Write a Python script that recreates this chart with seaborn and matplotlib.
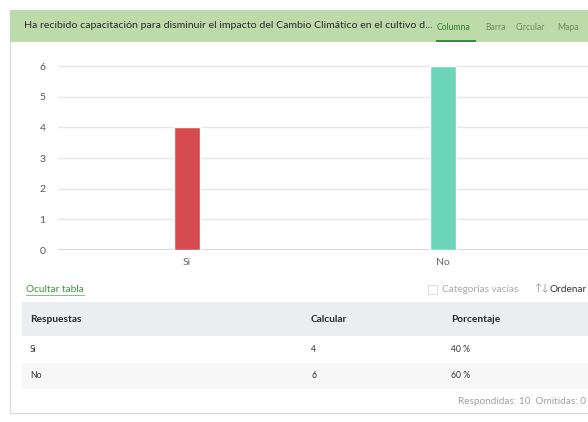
import numpy as np
import pandas as pd
import matplotlib
matplotlib.use("Agg")
import matplotlib.pyplot as plt
import matplotlib.patches as mpatches
import seaborn as sns

# datos
categorias = ["Si", "No"]
conteos = [4, 6]
porcentajes = ["40 %", "60 %"]
colores = ["#d64b50", "#6dd6b8"]
titulo = "Ha recibido capacitación para disminuir el impacto del Cambio Climático en el cultivo d..."
pestanas = ["Columna", "Barra", "Circular", "Mapa"]
encabezados = ["Respuestas", "Calcular", "Porcentaje"]
respondidas = 10
omitidas = 0

sns.set_style("white")
plt.rcParams["font.family"] = ["Lato", "DejaVu Sans"]

W, H = 588, 422
fig = plt.figure(figsize=(W / 100, H / 100), dpi=100)

def fx(px):
    return px / W

def fy(py):
    return 1 - py / H

def rect(x0, y0, x1, y1, **kw):
    r = mpatches.Rectangle((fx(x0), fy(y1)), fx(x1) - fx(x0), fy(y0) - fy(y1),
                           transform=fig.transFigure, zorder=0, **kw)
    fig.patches.append(r)

# tarjeta
rect(10, 10, 592, 413, facecolor="white", edgecolor="#dcdcdc", lw=1)
# cabecera verde
rect(10, 10, 600, 42, facecolor="#bcdba9", edgecolor="none")
fig.text(fx(24), fy(26), titulo, fontsize=7.55, color="#2b2b2b", va="center")
tab_x = [437, 485, 516, 557]
for i, (t, x) in enumerate(zip(pestanas, tab_x)):
    fig.text(fx(x), fy(27), t, fontsize=6.2, va="center",
             color="#2e7d32" if i == 0 else "#6b8f60")
rect(436, 40, 476, 42, facecolor="#3b8a3e", edgecolor="none")

# grafico de columnas
ax = fig.add_axes([fx(58), fy(250), 1 - fx(58), (250 - 57) / H])
ax.set_zorder(2)
df = pd.DataFrame({"Respuesta": categorias, "Cantidad": conteos})
sns.barplot(data=df, x="Respuesta", y="Cantidad", hue="Respuesta",
            palette=colores, saturation=1, width=0.1, legend=False, ax=ax, zorder=3)
ax.set_ylim(0, 6.3)
ax.set_xlim(-0.504, 1.566)
ax.set_yticks(range(0, 7))
ax.yaxis.grid(True, color="#e6e6e6", lw=1)
ax.set_axisbelow(True)
ax.set_xlabel("")
ax.set_ylabel("")
for s in ax.spines.values():
    s.set_visible(False)
ax.axhline(0, color="#d0d0d0", lw=1.2, zorder=2)
ax.tick_params(axis="y", length=0, pad=9, labelsize=7.5, labelcolor="#555555")
ax.tick_params(axis="x", length=3, color="#c8c8c8", pad=3, labelsize=7.5, labelcolor="#666666")
ax.set_facecolor("none")

# tabla
fig.text(fx(26), fy(289), "Ocultar tabla", fontsize=7.2, color="#3f9142", va="center")
fig.lines.append(plt.Line2D([fx(26), fx(84)], [fy(295), fy(295)], transform=fig.transFigure,
                            color="#7fbf80", lw=0.7))
rect(428, 285, 437, 294, facecolor="white", edgecolor="#dddddd", lw=0.7)
fig.text(fx(442), fy(289), "Categorías vacías", fontsize=7.2, color="#a8a8a8", va="center")
fig.text(fx(534), fy(289), "↑↓", fontsize=7, color="#999999", va="center")
fig.text(fx(549), fy(289), "Ordenar", fontsize=7.2, color="#333333", va="center")

rect(22, 302, 600, 336, facecolor="#ebedf0", edgecolor="none")
rect(22, 363, 600, 389, facecolor="#f7f7f7", edgecolor="none")
col_x = [30, 311, 451]
for h, x in zip(encabezados, col_x):
    fig.text(fx(x), fy(320), h, fontsize=7.3, weight="bold", color="#2b2b2b", va="center")
for i, (c, n, pc) in enumerate(zip(categorias, conteos, porcentajes)):
    y = 350 + i * 26
    for t, x in zip([c, str(n), pc], col_x):
        fig.text(fx(x), fy(y), t, fontsize=6.2, color="#333333", va="center")

fig.text(fx(586), fy(402), f"Respondidas: {respondidas}  Omitidas: {omitidas}",
         fontsize=7.2, color="#a0a0a0", va="center", ha="right")

fig.savefig("out.png", dpi=100)
